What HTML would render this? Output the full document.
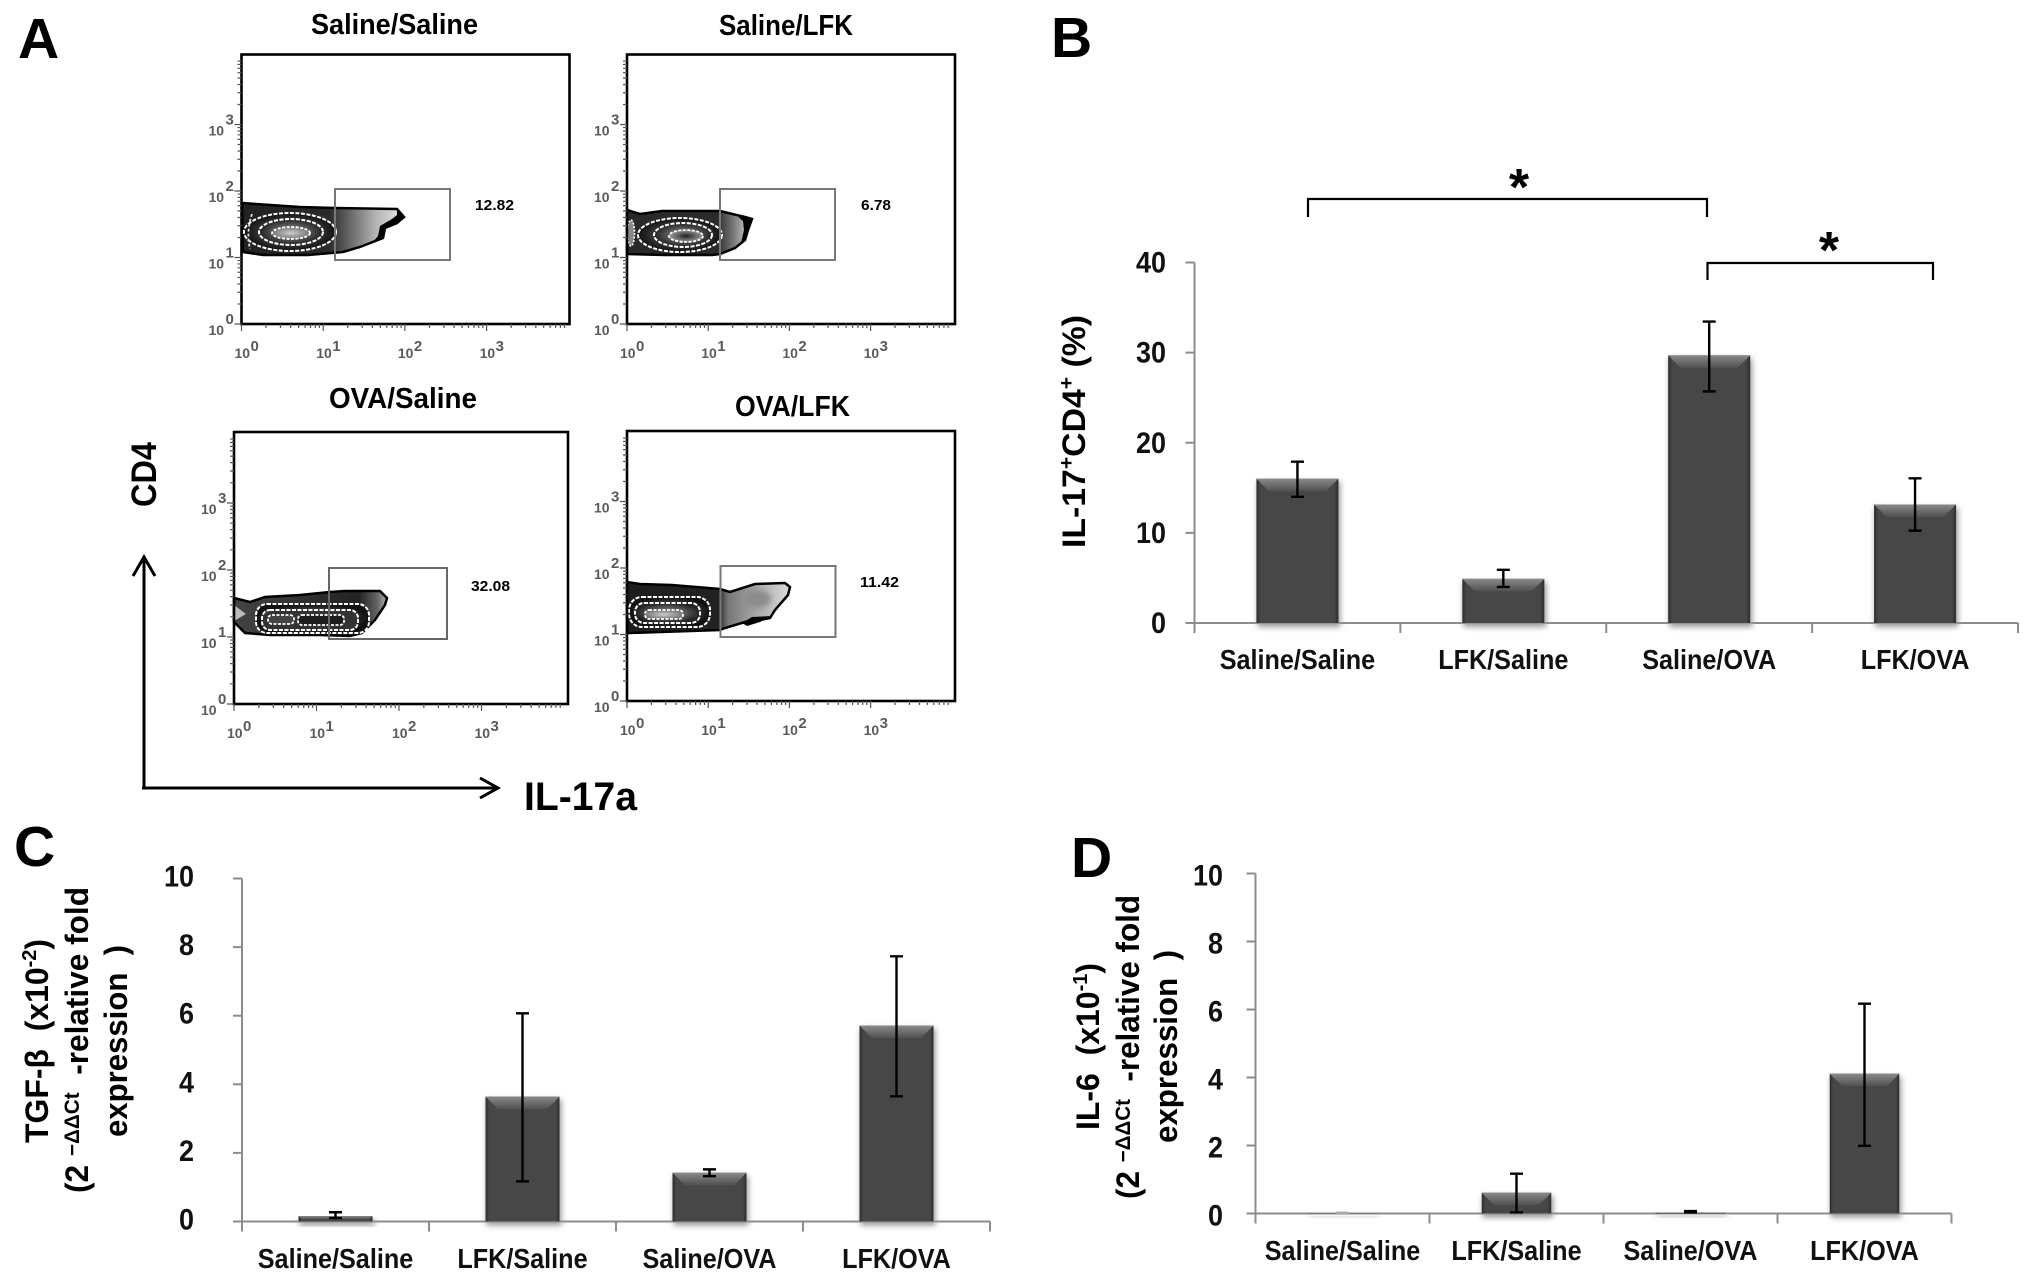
<!DOCTYPE html>
<html lang="en">
<head>
<meta charset="utf-8">
<title>IL-17a, TGF-beta and IL-6 figure</title>
<style>
html,body{margin:0;padding:0;background:#fff;}
svg{display:block;}
text{font-family:"Liberation Sans",sans-serif;font-weight:bold;fill:#000;}
.tick{fill:#111;font-size:30px;}
.cat{fill:#111;font-size:28px;}
.flow-tick{fill:#5a5a5a;font-size:14px;}
.flow-sup{fill:#5a5a5a;font-size:15px;}
.pct{font-size:14.5px;}
.ptitle{font-size:29px;}
.ytitle{font-size:32px;}
.small{font-size:21px;}
.letter{font-size:57px;}
</style>
</head>
<body>
<svg id="fig" xmlns="http://www.w3.org/2000/svg" width="2031" height="1280" viewBox="0 0 2031 1280">
<defs>
  <linearGradient id="barBody" x1="0" x2="1" y1="0" y2="0">
    <stop offset="0" stop-color="#2c2c2c"/><stop offset="0.05" stop-color="#474747"/>
    <stop offset="0.95" stop-color="#474747"/><stop offset="1" stop-color="#2c2c2c"/>
  </linearGradient>
  <linearGradient id="barBevel" x1="0" x2="0" y1="0" y2="1">
    <stop offset="0" stop-color="#8a8a8a"/><stop offset="1" stop-color="#505050"/>
  </linearGradient>
  <filter id="soft" x="-20%" y="-20%" width="140%" height="140%"><feGaussianBlur stdDeviation="3"/></filter>
  <linearGradient id="g1" gradientUnits="userSpaceOnUse" x1="242" x2="400" y1="0" y2="0">
    <stop offset="0" stop-color="#222"/><stop offset="0.55" stop-color="#2a2a2a"/><stop offset="0.68" stop-color="#666"/><stop offset="0.85" stop-color="#b5b5b5"/><stop offset="1" stop-color="#e2e2e2"/>
  </linearGradient>
  <linearGradient id="g2" gradientUnits="userSpaceOnUse" x1="627" x2="752" y1="0" y2="0">
    <stop offset="0" stop-color="#2a2a2a"/><stop offset="0.72" stop-color="#2a2a2a"/><stop offset="0.85" stop-color="#777"/><stop offset="1" stop-color="#ddd"/>
  </linearGradient>
  <linearGradient id="g3" gradientUnits="userSpaceOnUse" x1="234" x2="390" y1="0" y2="0">
    <stop offset="0" stop-color="#444"/><stop offset="0.8" stop-color="#222"/><stop offset="0.92" stop-color="#666"/><stop offset="1" stop-color="#ccc"/>
  </linearGradient>
  <linearGradient id="g4" gradientUnits="userSpaceOnUse" x1="627" x2="790" y1="0" y2="0">
    <stop offset="0" stop-color="#1e1e1e"/><stop offset="0.56" stop-color="#222"/><stop offset="0.62" stop-color="#777"/><stop offset="0.8" stop-color="#aaa"/><stop offset="1" stop-color="#ddd"/>
  </linearGradient>
  <radialGradient id="rOut"><stop offset="0" stop-color="#777"/><stop offset="1" stop-color="#111"/></radialGradient>
  <radialGradient id="rMid"><stop offset="0" stop-color="#999"/><stop offset="1" stop-color="#222"/></radialGradient>
  <radialGradient id="rIn"><stop offset="0" stop-color="#ccc"/><stop offset="1" stop-color="#777"/></radialGradient>
  <radialGradient id="rDark"><stop offset="0" stop-color="#222"/><stop offset="1" stop-color="#999"/></radialGradient>
</defs>

<rect x="0" y="0" width="2031" height="1280" fill="#fff"/>

<!-- Panel letters -->
<text class="letter" x="18" y="58">A</text>
<text class="letter" x="1051" y="57">B</text>
<text class="letter" x="14" y="866">C</text>
<text class="letter" x="1071" y="877">D</text>

<!-- Panel A titles -->
<text class="ptitle" x="311" y="34" textLength="167" lengthAdjust="spacingAndGlyphs">Saline/Saline</text>
<text class="ptitle" x="719" y="35" textLength="134" lengthAdjust="spacingAndGlyphs">Saline/LFK</text>
<text class="ptitle" x="329" y="408" textLength="148" lengthAdjust="spacingAndGlyphs">OVA/Saline</text>
<text class="ptitle" x="735" y="416" textLength="115" lengthAdjust="spacingAndGlyphs">OVA/LFK</text>

<!-- Density plot 1 -->
<g>
  <path d="M242 203 L300 207 L335 208 L397 209 L404 217 L397 223 L385 228 L383 238 L360 247 L343 252 L308 255 L263 255 L243 252 Z" fill="url(#g1)" stroke="#000" stroke-width="2.5"/>
  <path d="M397 209 L404 217 L397 223 L385 228 L383 238 L372 243 L378 236 L380 226 L392 219 L397 215 Z" fill="#000"/>
  <ellipse cx="290" cy="232" rx="46" ry="19" fill="url(#rOut)" stroke="#fff" stroke-width="2" stroke-dasharray="4 1.5"/>
  <ellipse cx="291" cy="232" rx="32" ry="13" fill="url(#rMid)" stroke="#fff" stroke-width="2" stroke-dasharray="4 1.5"/>
  <ellipse cx="291" cy="233" rx="19" ry="6" fill="url(#rIn)" stroke="#fff" stroke-width="1.8" stroke-dasharray="3 1.5"/>
  <path d="M252 214 Q246 232 250 249" fill="none" stroke="#ddd" stroke-width="1.8" stroke-dasharray="3 2"/>
</g>
<!-- Density plot 2 -->
<g>
  <path d="M627 210 L640 214 L662 211 L720 211 L745 217 L752 219 L748 230 L745 240 L735 248 L720 254 L712 255 L665 255 L627 254 Z" fill="url(#g2)" stroke="#000" stroke-width="2.5"/>
  <path d="M738 217 L752 219 L748 230 L745 240 L741 243 L744 230 L743 221 Z" fill="#000"/>
  <ellipse cx="680" cy="235" rx="42" ry="17" fill="url(#rOut)" stroke="#fff" stroke-width="2" stroke-dasharray="4 1.5"/>
  <ellipse cx="683" cy="235" rx="29" ry="12" fill="url(#rMid)" stroke="#fff" stroke-width="2" stroke-dasharray="4 1.5"/>
  <ellipse cx="686" cy="236" rx="17" ry="6" fill="url(#rDark)" stroke="#fff" stroke-width="1.8" stroke-dasharray="3 1.5"/>
  <ellipse cx="631" cy="233" rx="3.5" ry="13" fill="#888" stroke="#fff" stroke-width="1.6" stroke-dasharray="2 1.5"/>
</g>
<!-- Density plot 3 -->
<g>
  <path d="M234 598 L250 602 L265 597 L300 595 L330 592 L345 591 L380 591 L387 598 L385 605 L375 620 L362 633 L350 636 L320 635 L270 635 L245 633 L234 622 Z" fill="url(#g3)" stroke="#000" stroke-width="2.5"/>
  <path d="M234 605 L246 614 L234 621 Z" fill="#bbb"/>
  <rect x="256" y="604" width="113" height="29" rx="11" fill="url(#rOut)" stroke="#fff" stroke-width="2" stroke-dasharray="4 1.5"/>
  <rect x="262" y="610" width="96" height="20" rx="8" fill="#333" stroke="#fff" stroke-width="2" stroke-dasharray="4 1.5"/>
  <rect x="268" y="615" width="26" height="9" rx="4" fill="#444" stroke="#fff" stroke-width="1.8" stroke-dasharray="3 1.5"/>
  <rect x="298" y="615" width="46" height="10" rx="4" fill="#1c1c1c" stroke="#fff" stroke-width="1.8" stroke-dasharray="3 1.5"/>
</g>
<!-- Density plot 4 -->
<g>
  <path d="M627 582 L640 584 L672 585 L720 589 L730 592 L755 584 L785 583 L790 587 L788 595 L775 610 L770 618 L760 620 L752 620 L745 622 L725 628 L720 630 L630 633 L627 633 Z" fill="url(#g4)" stroke="#000" stroke-width="2.5"/>
  <path d="M742 623 L752 617 L772 616 L760 622 L747 626 Z" fill="#000"/>
  <ellipse cx="757" cy="599" rx="14" ry="9" fill="#8c8c8c" filter="url(#soft)"/>
  <rect x="629" y="597" width="81" height="30" rx="13" fill="url(#rOut)" stroke="#fff" stroke-width="2" stroke-dasharray="4 1.5"/>
  <rect x="635" y="603" width="65" height="20" rx="9" fill="url(#rMid)" stroke="#fff" stroke-width="2" stroke-dasharray="4 1.5"/>
  <rect x="645" y="610" width="38" height="9" rx="4" fill="url(#rIn)" stroke="#fff" stroke-width="1.8" stroke-dasharray="3 1.5"/>
</g>

<g id="flowAxes"></g>

<!-- Gates -->
<rect x="335" y="189" width="115" height="71" fill="none" stroke="#777" stroke-width="2"/>
<rect x="720" y="189" width="115" height="71" fill="none" stroke="#777" stroke-width="2"/>
<rect x="329" y="568" width="118" height="71" fill="none" stroke="#666" stroke-width="2"/>
<rect x="720.5" y="566" width="115" height="71" fill="none" stroke="#777" stroke-width="2"/>

<text class="pct" x="475" y="210" textLength="39" lengthAdjust="spacingAndGlyphs">12.82</text>
<text class="pct" x="861" y="210" textLength="30" lengthAdjust="spacingAndGlyphs">6.78</text>
<text class="pct" x="471" y="591" textLength="39" lengthAdjust="spacingAndGlyphs">32.08</text>
<text class="pct" x="860" y="587" textLength="39" lengthAdjust="spacingAndGlyphs">11.42</text>

<!-- Flow axes arrows -->
<g fill="none" stroke="#000" stroke-width="3">
  <line x1="144" y1="788" x2="144" y2="557"/>
  <polyline points="133,576 144,557 155,576"/>
</g>
<g fill="none" stroke="#000" stroke-width="3">
  <line x1="142" y1="788" x2="497" y2="788"/>
  <polyline points="480,778 498,788 480,798"/>
</g>
<text font-size="35" transform="translate(156,507) rotate(-90)" textLength="65" lengthAdjust="spacingAndGlyphs">CD4</text>
<text font-size="40" x="524" y="810" textLength="113" lengthAdjust="spacingAndGlyphs">IL-17a</text>

<!-- Panel B title + significance -->
<text class="ytitle" transform="translate(1085,548) rotate(-90)" textLength="233" lengthAdjust="spacingAndGlyphs">IL-17<tspan font-size="20" dy="-12">+</tspan><tspan dy="12">CD4</tspan><tspan font-size="20" dy="-12">+</tspan><tspan dy="12"> (%)</tspan></text>
<polyline points="1308,217 1308,199 1707,199 1707,217" fill="none" stroke="#000" stroke-width="2.2"/>
<polyline points="1707.5,280 1707.5,263 1933,263 1933,280" fill="none" stroke="#000" stroke-width="2.2"/>
<text font-size="52" text-anchor="middle" x="1519" y="205">*</text>
<text font-size="52" text-anchor="middle" x="1829" y="268">*</text>

<!-- Panel C titles -->
<text class="ytitle" transform="translate(48,1143) rotate(-90)" textLength="204" lengthAdjust="spacingAndGlyphs">TGF-β&#160;&#160;(x10<tspan font-size="20" dy="-12">-2</tspan><tspan dy="12">)</tspan></text>
<text class="ytitle" transform="translate(88,1193) rotate(-90)" textLength="306" lengthAdjust="spacingAndGlyphs">(2 <tspan class="small" dy="-9">−ΔΔCt</tspan><tspan dy="9">&#160;&#160;-relative fold</tspan></text>
<text class="ytitle" transform="translate(127,1137) rotate(-90)" textLength="192" lengthAdjust="spacingAndGlyphs">expression&#160;&#160;)</text>

<!-- Panel D titles -->
<text class="ytitle" transform="translate(1099,1130) rotate(-90)" textLength="167" lengthAdjust="spacingAndGlyphs">IL-6&#160;&#160;(x10<tspan font-size="20" dy="-12">-1</tspan><tspan dy="12">)</tspan></text>
<text class="ytitle" transform="translate(1139,1199) rotate(-90)" textLength="304" lengthAdjust="spacingAndGlyphs">(2 <tspan class="small" dy="-9">−ΔΔCt</tspan><tspan dy="9">&#160;&#160;-relative fold</tspan></text>
<text class="ytitle" transform="translate(1177,1143) rotate(-90)" textLength="193" lengthAdjust="spacingAndGlyphs">expression&#160;&#160;)</text>

<g id="chartB"></g>
<g id="chartC"></g>
<g id="chartD"></g>
</svg>

<script>
const categories = ['Saline/Saline', 'LFK/Saline', 'Saline/OVA', 'LFK/OVA'];
const yTickLabelsB = [0, 10, 20, 30, 40];
const yTickLabelsCD = [0, 2, 4, 6, 8, 10];

const valuesB = [16.0, 4.9, 29.7, 13.15];
const errHighB = [17.9, 5.9, 33.45, 16.05];
const errLowB = [14.0, 4.0, 25.7, 10.25];

const valuesC = [0.16, 3.64, 1.42, 5.71];
const errHighC = [0.27, 6.07, 1.52, 7.73];
const errLowC = [0.1, 1.17, 1.32, 3.65];

const valuesD = [0.01, 0.61, 0.03, 4.11];
const errHighD = [0.02, 1.17, 0.07, 6.17];
const errLowD = [0.0, 0.03, 0.03, 1.99];

const flowDecades = [0, 1, 2, 3];

const NS = 'http://www.w3.org/2000/svg';
function mk(parent, tag, attrs, txt) {
  const el = document.createElementNS(NS, tag);
  for (const k in attrs) el.setAttribute(k, attrs[k]);
  if (txt !== undefined) el.textContent = txt;
  parent.appendChild(el);
  return el;
}
function narrow(el, factor) {
  el.setAttribute('textLength', (el.getComputedTextLength() * factor).toFixed(1));
  el.setAttribute('lengthAdjust', 'spacingAndGlyphs');
}

function drawChart(rootId, key, frame, values, errHigh, errLow, ticks) {
  const root = document.getElementById(rootId);
  const maxV = ticks[ticks.length - 1];
  const step = (frame.right - frame.left) / categories.length;
  const yScale = v => frame.y0 - (v / maxV) * (frame.y0 - frame.yTop);
  const xScale = i => frame.left + (i + 0.5) * step;

  const yAxis = mk(root, 'line', {x1: frame.left, x2: frame.left, y1: frame.yTop, y2: frame.y0 + 10, stroke: '#8c8c8c', 'stroke-width': 2});
  
  
  const xAxis = mk(root, 'line', {x1: frame.left - 9, x2: frame.right, y1: frame.y0, y2: frame.y0, stroke: '#8c8c8c', 'stroke-width': 2});
  
  

  ticks.forEach(t => {
    const y = yScale(t);
    const tk = mk(root, 'line', {x1: frame.left - 9, x2: frame.left, y1: y, y2: y, stroke: '#8c8c8c', 'stroke-width': 2});
    
    
    const lb = mk(root, 'text', {x: frame.labelRight, y: y + 11 + frame.labelDy, 'text-anchor': 'end', class: 'tick'}, String(t));
    
    
    narrow(lb, 0.9);
  });

  categories.forEach((c, i) => {
    const tx = frame.left + (i + 1) * step;
    const tk = mk(root, 'line', {x1: tx, x2: tx, y1: frame.y0, y2: frame.y0 + 10, stroke: '#8c8c8c', 'stroke-width': 2});
    
    

    const cx = xScale(i);
    const top = yScale(values[i]);
    const h = frame.y0 - top;
    const x = cx - frame.barW / 2;

    const shadow = mk(root, 'rect', {x: x + 1, y: top + 3, width: frame.barW + 1, height: h + 1, fill: '#9a9a9a', filter: 'url(#soft)'});
    
    

    const bar = mk(root, 'rect', {x: x, y: top, width: frame.barW, height: h, fill: 'url(#barBody)'});
    
    

    const b = Math.min(12.5, h * 0.6);
    const bevel = mk(root, 'polygon', {points: x + ',' + top + ' ' + (x + frame.barW) + ',' + top + ' ' + (x + frame.barW - b) + ',' + (top + b) + ' ' + (x + b) + ',' + (top + b), fill: 'url(#barBevel)'});
    
    

    const yHi = yScale(errHigh[i]);
    const yLo = yScale(errLow[i]);
    const err = mk(root, 'path', {d: 'M' + (cx - 6.5) + ' ' + yHi + 'H' + (cx + 6.5) + 'M' + cx + ' ' + yHi + 'V' + yLo + 'M' + (cx - 6.5) + ' ' + yLo + 'H' + (cx + 6.5), fill: 'none', stroke: i === 0 && key === 'd' ? '#aaa' : '#000', 'stroke-width': 2.4});
    
    

    const lab = mk(root, 'text', {x: cx, y: frame.catY, 'text-anchor': 'middle', class: 'cat'}, c);
    
    
    narrow(lab, 0.9);
  });
}

drawChart('chartB', 'b', {left: 1194.5, right: 2018, y0: 623, yTop: 262.5, barW: 82, labelRight: 1166, catY: 669, labelDy: -1}, valuesB, errHighB, errLowB, yTickLabelsB);
drawChart('chartC', 'c', {left: 242, right: 990, y0: 1221.5, yTop: 878.5, barW: 74, labelRight: 194, catY: 1268, labelDy: -3}, valuesC, errHighC, errLowC, yTickLabelsCD);
drawChart('chartD', 'd', {left: 1255.5, right: 1951.5, y0: 1213.5, yTop: 873.5, barW: 69.5, labelRight: 1223, catY: 1260, labelDy: 1}, valuesD, errHighD, errLowD, yTickLabelsCD);

function drawFlowAxes(key, box, x0, dx, y0, dy) {
  const root = document.getElementById('flowAxes');
  const frame = mk(root, 'rect', {x: box.l, y: box.t, width: box.r - box.l, height: box.b - box.t, fill: 'none', stroke: '#000', 'stroke-width': 2.6});
  
  
  let d = '';
  flowDecades.forEach(dec => {
    const tx = x0 + dec * dx;
    const ty = y0 - dec * dy;
    d += 'M' + tx + ' ' + box.b + 'v7M' + box.l + ' ' + ty + 'h-7';
    for (let m = 2; m < 10; m++) {
      const off = Math.log10(m);
      d += 'M' + (tx + off * dx) + ' ' + box.b + 'v4';
      const my = ty - off * dy;
      if (my > box.t) d += 'M' + box.l + ' ' + my + 'h-4';
    }
    const xl = mk(root, 'text', {x: tx - 7, y: box.b + 34, class: 'flow-tick'}, '10');
    
    
    const xs = mk(root, 'text', {x: tx + 9, y: box.b + 27, class: 'flow-sup'}, String(dec));
    
    
    const yl = mk(root, 'text', {x: box.l - 33, y: ty + 11, class: 'flow-tick'}, '10');
    
    
    const ys = mk(root, 'text', {x: box.l - 16, y: ty, class: 'flow-sup'}, String(dec));
    
    
  });
  const ticks = mk(root, 'path', {d: d, fill: 'none', stroke: '#555', 'stroke-width': 1.2});
  
  
}

drawFlowAxes('saline-saline', {l: 241.5, r: 569.5, t: 54.5, b: 324}, 241.5, 81.7, 324, 66.5);
drawFlowAxes('saline-lfk', {l: 627, r: 955, t: 54.5, b: 324}, 627, 81.2, 324, 66.5);
drawFlowAxes('ova-saline', {l: 234, r: 568, t: 432, b: 704}, 234, 82.5, 704, 67);
drawFlowAxes('ova-lfk', {l: 627, r: 955, t: 431, b: 701}, 627, 81.2, 701, 66.5);
</script>
</body>
</html>
